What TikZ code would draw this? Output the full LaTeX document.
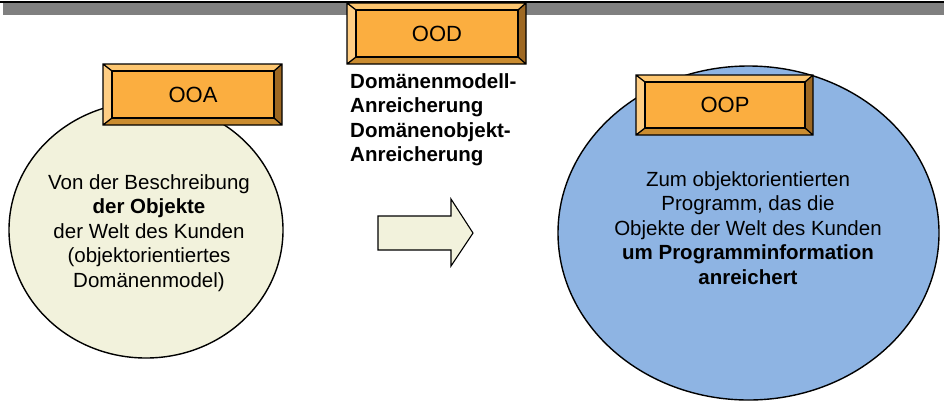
\documentclass[tikz,border=0pt]{standalone}
\usepackage{fontspec}
\setmainfont{Liberation Sans}
\usetikzlibrary{shapes.geometric}
\definecolor{facec}{RGB}{251,174,64}
\definecolor{topc}{RGB}{253,198,112}
\definecolor{leftc}{RGB}{255,206,132}
\definecolor{rightc}{RGB}{158,104,34}
\definecolor{botc}{RGB}{202,140,48}
\definecolor{paley}{RGB}{242,242,220}
\definecolor{blu}{RGB}{142,180,227}
\definecolor{barg}{RGB}{128,128,128}
\tikzset{
  facebox/.style={draw=black, line width=1.3pt, fill=facec, inner sep=0pt, outer sep=0pt,
    font=\fontsize{22}{26}\selectfont},
  bevline/.style={draw=black, line width=1.3pt, line join=miter},
  bubble/.style={ellipse, draw=black, line width=1.4pt, inner sep=0pt},
  bubtext/.style={align=center, font=\fontsize{20.5}{24.6}\selectfont},
  sidetext/.style={align=left, font=\fontsize{20.5}{24.6}\selectfont\bfseries, inner sep=0pt},
  bigarrow/.style={draw=black, line width=1.1pt, fill=paley, line join=miter}
}
\newcommand\bevbox[6]{%
\pgfmathsetmacro\bw{#4-#2}\pgfmathsetmacro\bh{#5-#3}%
\begin{scope}[shift={(#2,#3)}]
 \fill[topc] (0,0) -- (\bw,0) -- (\bw-8,7) -- (9,7) -- cycle;
 \fill[leftc] (0,0) -- (9,7) -- (9,\bh-7) -- (0,\bh) -- cycle;
 \fill[rightc] (\bw,0) -- (\bw,\bh) -- (\bw-8,\bh-7) -- (\bw-8,7) -- cycle;
 \fill[botc] (0,\bh) -- (\bw,\bh) -- (\bw-8,\bh-7) -- (9,\bh-7) -- cycle;
 \draw[bevline] (0,0) rectangle (\bw,\bh) (0,0) -- (9,7) (\bw,0) -- (\bw-8,7)
   (0,\bh) -- (9,\bh-7) (\bw,\bh) -- (\bw-8,\bh-7);
 \node[facebox, minimum width=\bw-17, minimum height=\bh-14, anchor=north west] (#1) at (9,7) {#6};
\end{scope}}
\begin{document}
\begin{tikzpicture}[x=1pt,y=-1pt]
\useasboundingbox (0,0) rectangle (944,408);
% top bar
\fill[barg] (3,3) rectangle (944,15);
\draw[line width=1.6pt] (0,2) -- (944,2);
% bubbles
\node[bubble, fill=paley, minimum width=274pt, minimum height=256pt] (ooabub) at (146,230) {};
\node[bubble, fill=blu, minimum width=381pt, minimum height=334pt] (oopbub) at (748.5,233) {};
% arrow
\draw[bigarrow] (378,216) coordinate (arrA) -- (451,216) -- (451,199) -- (473,233) coordinate (arrTip)
  -- (451,266) -- (451,250) -- (378,250) -- cycle;
% labels
\bevbox{ood}{347}{3}{526}{64}{OOD}
\bevbox{ooa}{103}{64}{282}{125}{OOA}
\bevbox{oop}{636}{75}{813}{135}{OOP}
% texts
\node[bubtext] (ooatext) at (149,233) {Von der Beschreibung\\\textbf{der Objekte}\\der Welt des Kunden\\(objektorientiertes\\Domänenmodel)};
\node[bubtext] (ooptext) at (748,228) {Zum objektorientierten\\Programm, das die\\Objekte der Welt des Kunden\\\textbf{um Programminformation}\\\textbf{anreichert}};
\node[sidetext, anchor=north west] (oodtext) at (350,73) {Domänenmodell-\\Anreicherung\\Domänenobjekt-\\Anreicherung};
\end{tikzpicture}
\end{document}
